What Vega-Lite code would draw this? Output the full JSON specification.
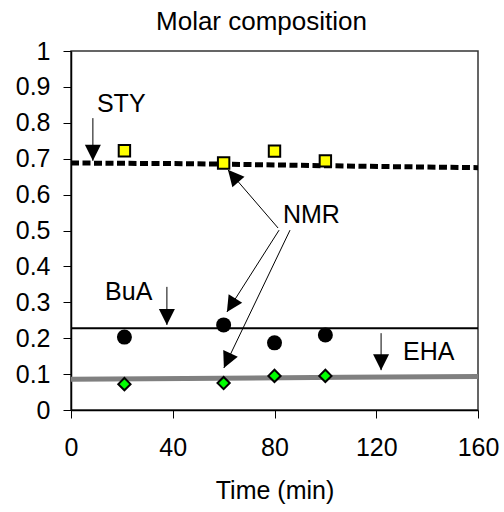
{
  "$schema": "https://vega.github.io/schema/vega-lite/v6.json",
  "width": 407,
  "height": 359,
  "autosize": "none",
  "padding": {"left": 71, "top": 51, "right": 26, "bottom": 102},
  "background": "white",
  "title": {"text": "Molar composition", "fontSize": 26, "font": "Liberation Sans", "fontWeight": "normal", "color": "black", "baseline": "alphabetic", "frame": "group", "offset": 5, "dy": 22, "dx": -13},
  "config": {
    "view": {"stroke": "#333333", "strokeWidth": 1.5},
    "font": "Liberation Sans",
    "axis": {"grid": false, "domain": true, "domainColor": "black", "domainWidth": 1.5, "tickColor": "black", "tickWidth": 1, "tickSize": 8, "labelFlush": false, "labelOverlap": false, "labelFontSize": 25, "labelColor": "black", "titleFontSize": 25, "titleFontWeight": "normal", "titleColor": "black", "labelFont": "Liberation Sans", "titleFont": "Liberation Sans"}
  },
  "datasets": {
    "model": [
      {"series": "STY", "t": 0, "v": 0.688}, {"series": "STY", "t": 48, "v": 0.686}, {"series": "STY", "t": 114, "v": 0.679}, {"series": "STY", "t": 160, "v": 0.675},
      {"series": "BuA", "t": 0, "v": 0.228}, {"series": "BuA", "t": 160, "v": 0.228},
      {"series": "EHA", "t": 0, "v": 0.086}, {"series": "EHA", "t": 45, "v": 0.088}, {"series": "EHA", "t": 107, "v": 0.091}, {"series": "EHA", "t": 160, "v": 0.093}
    ],
    "meas": [
      {"series": "STY", "t": 21, "v": 0.722}, {"series": "STY", "t": 60, "v": 0.688}, {"series": "STY", "t": 80, "v": 0.721}, {"series": "STY", "t": 100, "v": 0.694},
      {"series": "BuA", "t": 21, "v": 0.203}, {"series": "BuA", "t": 60, "v": 0.237}, {"series": "BuA", "t": 80, "v": 0.187}, {"series": "BuA", "t": 100, "v": 0.209},
      {"series": "EHA", "t": 21, "v": 0.072}, {"series": "EHA", "t": 60, "v": 0.075}, {"series": "EHA", "t": 80, "v": 0.095}, {"series": "EHA", "t": 100, "v": 0.095}
    ],
    "arrows": [
      {"id": "sty", "t": 8.6, "v": 0.813, "t2": 8.6, "v2": 0.694},
      {"id": "bua", "t": 37.7, "v": 0.343, "t2": 37.7, "v2": 0.237},
      {"id": "eha", "t": 121.9, "v": 0.214, "t2": 121.9, "v2": 0.111},
      {"id": "n1", "t": 81.4, "v": 0.507, "t2": 61.7, "v2": 0.669},
      {"id": "n2", "t": 81.8, "v": 0.501, "t2": 61.3, "v2": 0.273},
      {"id": "n3", "t": 86.1, "v": 0.501, "t2": 60.1, "v2": 0.117}
    ],
    "heads": [
      {"id": "sty", "t": 8.6, "v": 0.694},
      {"id": "bua", "t": 37.7, "v": 0.237},
      {"id": "eha", "t": 121.9, "v": 0.111},
      {"id": "n1", "t": 61.7, "v": 0.669},
      {"id": "n2", "t": 61.3, "v": 0.273},
      {"id": "n3", "t": 60.1, "v": 0.117}
    ],
    "labels": [
      {"label": "STY", "t": 10.2, "v": 0.852},
      {"label": "NMR", "t": 83.3, "v": 0.543},
      {"label": "BuA", "t": 13.4, "v": 0.329},
      {"label": "EHA", "t": 130.5, "v": 0.162}
    ]
  },
  "encoding": {
    "x": {"field": "t", "type": "quantitative", "scale": {"domain": [0, 160], "nice": false}, "axis": {"values": [0, 40, 80, 120, 160], "title": "Time (min)", "labelPadding": 17, "titlePadding": 18, "labelOverlap": false, "encode": {"ticks": {"update": {"y": {"value": -8}}}}}},
    "y": {"field": "v", "type": "quantitative", "scale": {"domain": [0, 1], "nice": false}, "axis": {"values": [0, 0.1, 0.2, 0.3, 0.4, 0.5, 0.6, 0.7, 0.8, 0.9, 1], "format": "~g", "title": null, "labelPadding": 13, "labelOverlap": false, "encode": {"ticks": {"update": {"x": {"value": 8}}}}}}
  },
  "layer": [
    {
      "data": {"name": "model"},
      "transform": [{"filter": "datum.series === 'EHA'"}],
      "mark": {"type": "line", "color": "#808080", "strokeWidth": 5, "strokeCap": "butt"}
    },
    {
      "data": {"name": "model"},
      "transform": [{"filter": "datum.series === 'BuA'"}],
      "mark": {"type": "line", "color": "black", "strokeWidth": 2}
    },
    {
      "data": {"name": "model"},
      "transform": [{"filter": "datum.series === 'STY'"}],
      "mark": {"type": "line", "color": "black", "strokeWidth": 5, "strokeDash": [8, 3.5], "strokeCap": "butt"}
    },
    {
      "data": {"name": "arrows"},
      "mark": {"type": "rule", "color": "black", "strokeWidth": 1},
      "encoding": {"x2": {"field": "t2"}, "y2": {"field": "v2"}}
    },
    {
      "data": {"name": "heads"},
      "transform": [{"filter": "datum.id === 'sty' || datum.id === 'bua' || datum.id === 'eha'"}],
      "mark": {"type": "point", "shape": "M0,0L-1,-2L1,-2Z", "size": 256, "filled": true, "color": "black", "opacity": 1, "strokeWidth": 0}
    },
    {
      "data": {"name": "heads"},
      "transform": [{"filter": "datum.id === 'n1'"}],
      "mark": {"type": "point", "shape": "M0,0L-1,-2L1,-2Z", "size": 256, "filled": true, "color": "black", "opacity": 1, "strokeWidth": 0, "angle": 139}
    },
    {
      "data": {"name": "heads"},
      "transform": [{"filter": "datum.id === 'n2'"}],
      "mark": {"type": "point", "shape": "M0,0L-1,-2L1,-2Z", "size": 256, "filled": true, "color": "black", "opacity": 1, "strokeWidth": 0, "angle": 32}
    },
    {
      "data": {"name": "heads"},
      "transform": [{"filter": "datum.id === 'n3'"}],
      "mark": {"type": "point", "shape": "M0,0L-1,-2L1,-2Z", "size": 256, "filled": true, "color": "black", "opacity": 1, "strokeWidth": 0, "angle": 24.5}
    },
    {
      "data": {"name": "meas"},
      "transform": [{"filter": "datum.series === 'STY'"}],
      "mark": {"type": "point", "shape": "square", "size": 130, "filled": true, "fill": "#FFFF00", "stroke": "black", "strokeWidth": 2, "opacity": 1}
    },
    {
      "data": {"name": "meas"},
      "transform": [{"filter": "datum.series === 'BuA'"}],
      "mark": {"type": "point", "shape": "circle", "size": 225, "filled": true, "color": "black", "opacity": 1}
    },
    {
      "data": {"name": "meas"},
      "transform": [{"filter": "datum.series === 'EHA'"}],
      "mark": {"type": "point", "shape": "diamond", "size": 150, "filled": true, "fill": "#00FF00", "stroke": "black", "strokeWidth": 2, "opacity": 1}
    },
    {
      "data": {"name": "labels"},
      "mark": {"type": "text", "align": "left", "baseline": "middle", "fontSize": 25, "font": "Liberation Sans", "color": "black"},
      "encoding": {"text": {"field": "label"}}
    }
  ]
}
